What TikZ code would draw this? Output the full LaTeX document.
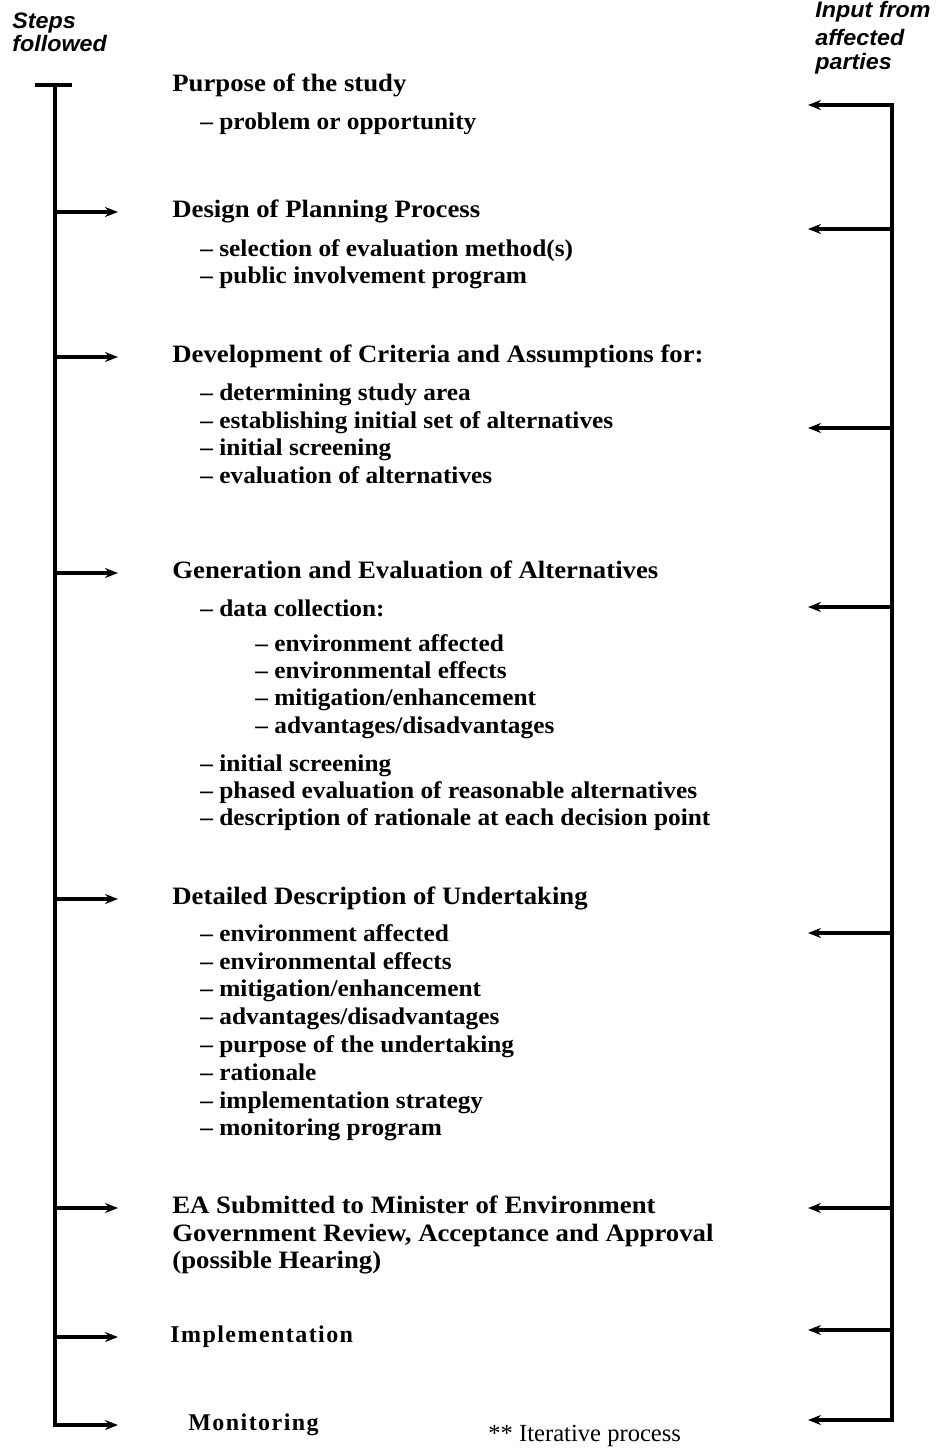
\documentclass[tikz,border=0pt]{standalone}
\usepackage{fontspec}
\setmainfont{Liberation Serif}
\setsansfont{Liberation Sans}
\newfontfamily\headfont[FakeStretch=1.07]{Liberation Serif}
\newfontfamily\itemfont[FakeStretch=1.055]{Liberation Serif}
\usetikzlibrary{arrows.meta}

\begin{document}
\begin{tikzpicture}[
	x=0.5pt, y=-0.5pt,
	every node/.style = {inner sep=0pt, anchor=west,
		text height=8pt, text depth=2.5pt},
	head/.style = {font=\headfont\fontsize{12.5}{13.5}\selectfont\bfseries},
	item/.style = {font=\itemfont\fontsize{12}{13.5}\selectfont\bfseries},
	spaced/.style = {font=\fontsize{12}{13.5}\selectfont\bfseries\addfontfeatures{LetterSpace=6}},
	side/.style = {font=\sffamily\bfseries\itshape\addfontfeatures{FakeStretch=1.04}\fontsize{11.2}{12}\selectfont,
		text height=6.5pt, text depth=2pt},
	note/.style = {font=\fontsize{12.3}{13}\selectfont},
	spine/.style = {line width=1.6pt, line cap=rect},
	feed/.style = {line width=1.6pt, -{Stealth[length=6.5pt,width=5pt]}}]
	\useasboundingbox (0,0) rectangle (942,1456);

	% column headings
	\node[side] (steps) at (12,24) {Steps};
	\node[side] (followed) at (12,47) {followed};
	\node[side] (input) at (815,13) {Input from};
	\node[side] (affected) at (815,41) {affected};
	\node[side] (parties) at (815,65) {parties};

	% steps
	\node[head] (purpose) at (172,86) {Purpose of the study};
	\node[item] (problem) at (200,124) {– problem or opportunity};

	\node[head] (design) at (172,212) {Design of Planning Process};
	\node[item] (select) at (200,251) {– selection of evaluation method(s)};
	\node[item] (public) at (200,278) {– public involvement program};

	\node[head] (develop) at (172,357) {Development of Criteria and Assumptions for:};
	\node[item] (area) at (200,395) {– determining study area};
	\node[item] (initset) at (200,423) {– establishing initial set of alternatives};
	\node[item] (screen1) at (200,450) {– initial screening};
	\node[item] (evalalt) at (200,478) {– evaluation of alternatives};

	\node[head] (generate) at (172,573) {Generation and Evaluation of Alternatives};
	\node[item] (data) at (200,611) {– data collection:};
	\node[item] (envaff1) at (255,646) {– environment affected};
	\node[item] (enveff1) at (255,673) {– environmental effects};
	\node[item] (mitig1) at (255,700) {– mitigation/enhancement};
	\node[item] (advan1) at (255,728) {– advantages/disadvantages};
	\node[item] (screen2) at (200,766) {– initial screening};
	\node[item] (phased) at (200,793) {– phased evaluation of reasonable alternatives};
	\node[item] (reason) at (200,820) {– description of rationale at each decision point};

	\node[head] (detail) at (172,899) {Detailed Description of Undertaking};
	\node[item] (envaff2) at (200,936) {– environment affected};
	\node[item] (enveff2) at (200,964) {– environmental effects};
	\node[item] (mitig2) at (200,991) {– mitigation/enhancement};
	\node[item] (advan2) at (200,1019) {– advantages/disadvantages};
	\node[item] (aim) at (200,1047) {– purpose of the undertaking};
	\node[item] (ratio) at (200,1075) {– rationale};
	\node[item] (strategy) at (200,1103) {– implementation strategy};
	\node[item] (monprog) at (200,1130) {– monitoring program};

	\node[head] (submit) at (172,1208) {EA Submitted to Minister of Environment};
	\node[head] (review) at (172,1236) {Government Review, Acceptance and Approval};
	\node[head] (hearing) at (172,1263) {(possible Hearing)};

	\node[spaced] (implement) at (170,1337) {Implementation};
	\node[spaced] (monitor) at (188,1425) {Monitoring};
	\node[note] (iterative) at (488,1436) {** Iterative process};

	% steps followed
	\coordinate (tl) at (37,85);
	\coordinate (tr) at (70,85);
	\coordinate (s0) at (55,85);
	\coordinate (s7) at (55,1425);
	\draw[spine] (tl) -- (tr);
	\draw[spine] (s0) -- (s7);
	\draw[feed, shorten >=27pt] (s0 |- design.west) -- (design.west);
	\draw[feed, shorten >=27pt] (s0 |- develop.west) -- (develop.west);
	\draw[feed, shorten >=27pt] (s0 |- generate.west) -- (generate.west);
	\draw[feed, shorten >=27pt] (s0 |- detail.west) -- (detail.west);
	\draw[feed, shorten >=27pt] (s0 |- submit.west) -- (submit.west);
	\draw[feed, shorten >=26pt] (s0 |- implement.west) -- (implement.west);
	\draw[feed, shorten >=35pt] (s7) -- (monitor.west);

	% input from affected parties
	\coordinate (r0) at (892,105);
	\coordinate (r7) at (892,1420);
	\draw[spine] (r0) -- (r7);
	\foreach \y [count=\i] in {105,229,428,607,933,1208,1330,1420}
		\draw[feed] (892,\y) coordinate (r\i) -- (808,\y) coordinate (in\i);
\end{tikzpicture}
\end{document}
